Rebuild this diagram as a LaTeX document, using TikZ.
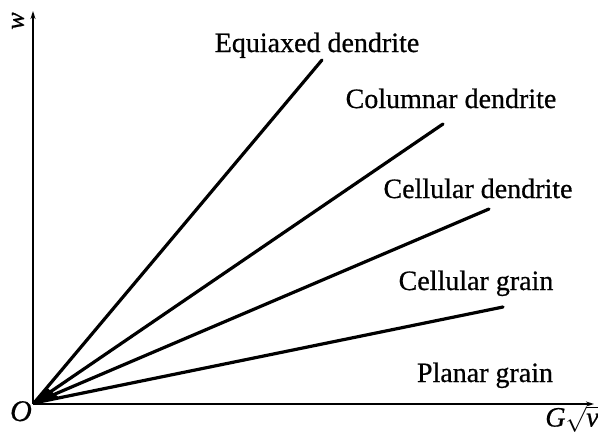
\documentclass[tikz,border=0pt]{standalone}
\usepackage{fontspec}
\setmainfont{Liberation Serif}
\newfontfamily\lblfont[FakeBold=0.6]{Liberation Serif}
\newfontfamily\lblitfont[FakeBold=0.6]{Liberation Serif Italic}
\usetikzlibrary{arrows.meta,calc}
\begin{document}
\begin{tikzpicture}[x=1pt,y=-1pt,
  lbl/.style={font=\lblfont\fontsize{28}{30}\selectfont, anchor=base, inner sep=0pt},
  axis/.style={line width=1.9pt, -{Stealth[length=8pt,width=5pt]}},
  ray/.style={line width=3.2pt, line cap=round}]
\useasboundingbox (0,0) rectangle (598,437);
\coordinate (O) at (34,403);
\coordinate (yt) at (33,11);
\coordinate (xt) at (594,404);
\coordinate (ax0) at (33,404);
\draw[axis] (ax0) -- (yt);
\draw[axis] (ax0) -- (xt);
\coordinate (e1) at (322,60);
\coordinate (e2) at (443,124);
\coordinate (e3) at (489,209);
\coordinate (e4) at (503,307);
\foreach \e in {e1,e2,e3,e4} \draw[ray] (O) -- (\e);
\fill (O) -- ($(O)!20pt!(e1)$) -- ($(O)!26pt!(e4)$) -- cycle;
\node[lbl] (l1) at (317,52) {Equiaxed dendrite};
\node[lbl] (l2) at (451,108) {Columnar dendrite};
\node[lbl] (l3) at (478,198) {Cellular dendrite};
\node[lbl] (l4) at (476,290) {Cellular grain};
\node[lbl] (l5) at (485,382) {Planar grain};
\node[lbl, font=\lblitfont\fontsize{30}{32}\selectfont] (o) at (21,421) {O};
\node[lbl, anchor=center, font=\lblitfont\fontsize{28}{30}\selectfont] (gv) at (572,419) {G$\sqrt{\mbox{\lblitfont v}}$};
\node[font=\lblitfont\fontsize{26}{28}\selectfont, rotate=90, inner sep=0pt] (w) at (18,21) {w};
\end{tikzpicture}
\end{document}
